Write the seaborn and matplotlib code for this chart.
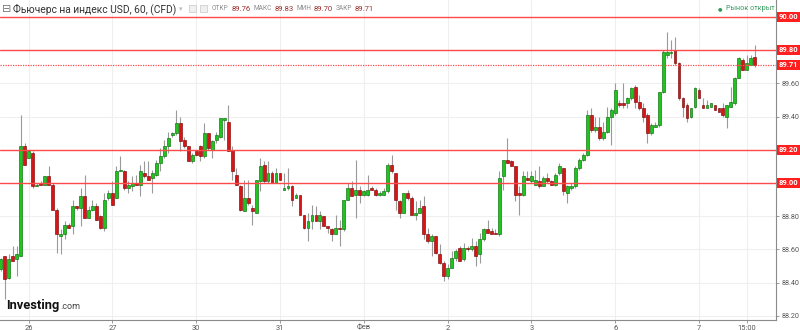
import numpy as np
import pandas as pd
import matplotlib
matplotlib.use("Agg")
import matplotlib.pyplot as plt
from matplotlib.patches import Rectangle
import seaborn as sns

# ---------------- data (hourly candles, USD index futures) ----------------
opens = [88.48, 88.56, 88.43, 88.56, 88.54, 88.56, 89.22, 89.15, 89.18, 88.98,
         89.00, 88.99, 89.04, 88.99, 88.84, 88.68, 88.69, 88.75, 88.74, 88.86,
         88.85, 88.92, 88.79, 88.84, 88.86, 88.80, 88.73, 88.91, 88.94, 88.91,
         89.07, 89.07, 88.97, 88.98, 89.00, 88.99, 89.06, 89.04, 89.03, 89.05,
         89.12, 89.16, 89.22, 89.29, 89.30, 89.36, 89.26, 89.22, 89.13, 89.19,
         89.22, 89.16, 89.30, 89.20, 89.26, 89.28, 89.38, 89.37, 89.20, 89.05,
         88.98, 88.83, 88.91, 88.85, 88.82, 89.01, 89.11, 89.01, 89.06, 89.00,
         89.06, 88.96, 88.97, 88.98, 88.91, 88.93, 88.81, 88.73, 88.77, 88.81,
         88.77, 88.80, 88.74, 88.72, 88.69, 88.73, 88.72, 88.90, 88.97, 88.93,
         88.96, 88.93, 88.93, 88.97, 88.96, 88.93, 88.93, 88.95, 89.11, 89.06,
         88.89, 88.82, 88.94, 88.91, 88.81, 88.82, 88.86, 88.69, 88.65, 88.68,
         88.57, 88.52, 88.44, 88.49, 88.55, 88.61, 88.54, 88.61, 88.60, 88.62,
         88.57, 88.66, 88.72, 88.71, 88.70, 88.69, 89.04, 89.14, 89.13, 89.10,
         88.94, 88.93, 89.03, 89.01, 88.99, 89.01, 88.98, 89.03, 89.01, 88.99,
         89.06, 89.09, 88.94, 88.97, 88.98, 89.09, 89.14, 89.17, 89.41, 89.32,
         89.34, 89.27, 89.31, 89.40, 89.42, 89.48, 89.48, 89.48, 89.51, 89.58,
         89.49, 89.45, 89.41, 89.30, 89.34, 89.35, 89.55, 89.77, 89.78, 89.80,
         89.72, 89.51, 89.47, 89.40, 89.46, 89.56, 89.47, 89.45, 89.46, 89.47,
         89.45, 89.45, 89.40, 89.46, 89.48, 89.63, 89.74, 89.68, 89.71, 89.76]
highs = [88.55, 88.56, 88.57, 88.62, 88.62, 89.41, 89.24, 89.20, 89.19, 89.00,
         89.01, 89.04, 89.10, 89.00, 88.85, 88.72, 88.77, 88.76, 88.90, 88.86,
         88.97, 89.05, 88.86, 88.90, 88.88, 88.81, 88.94, 88.96, 89.01, 89.10,
         89.16, 89.08, 89.01, 89.04, 89.05, 89.11, 89.13, 89.13, 89.08, 89.14,
         89.21, 89.26, 89.31, 89.31, 89.44, 89.40, 89.28, 89.22, 89.18, 89.20,
         89.23, 89.36, 89.30, 89.26, 89.31, 89.39, 89.39, 89.47, 89.22, 89.09,
         88.99, 89.02, 89.02, 88.87, 89.02, 89.15, 89.13, 89.13, 89.07, 89.09,
         89.06, 89.06, 89.09, 88.99, 88.94, 88.93, 88.81, 88.82, 88.87, 88.86,
         88.83, 88.80, 88.74, 88.73, 88.81, 88.78, 88.90, 89.00, 89.01, 89.14,
         88.98, 88.96, 89.05, 88.98, 88.97, 88.95, 88.97, 89.12, 89.17, 89.06,
         88.90, 88.94, 88.96, 88.92, 88.89, 88.90, 88.92, 88.73, 88.69, 88.68,
         88.63, 88.53, 88.51, 88.59, 88.60, 88.62, 88.64, 88.62, 88.67, 88.65,
         88.70, 88.73, 88.78, 88.73, 88.72, 89.07, 89.14, 89.27, 89.14, 89.10,
         88.98, 89.07, 89.07, 89.07, 89.08, 89.10, 89.04, 89.06, 89.02, 89.06,
         89.12, 89.09, 88.99, 89.00, 89.10, 89.15, 89.18, 89.44, 89.45, 89.40,
         89.40, 89.37, 89.46, 89.45, 89.60, 89.50, 89.60, 89.52, 89.58, 89.59,
         89.53, 89.48, 89.42, 89.36, 89.37, 89.55, 89.80, 89.91, 89.86, 89.88,
         89.73, 89.52, 89.48, 89.45, 89.58, 89.57, 89.51, 89.50, 89.48, 89.47,
         89.45, 89.48, 89.47, 89.58, 89.64, 89.76, 89.75, 89.77, 89.77, 89.83]
lows = [88.47, 88.30, 88.42, 88.53, 88.44, 88.56, 89.11, 89.15, 88.97, 88.98,
        88.99, 88.99, 88.99, 88.84, 88.58, 88.57, 88.66, 88.73, 88.69, 88.84,
        88.74, 88.79, 88.79, 88.83, 88.78, 88.72, 88.71, 88.90, 88.87, 88.91,
        89.07, 88.96, 88.94, 88.95, 88.99, 88.92, 89.03, 89.02, 88.94, 89.04,
        89.07, 89.15, 89.18, 89.28, 89.29, 89.19, 89.21, 89.13, 89.12, 89.16,
        89.13, 89.15, 89.20, 89.15, 89.24, 89.27, 89.26, 89.19, 89.02, 88.99,
        88.83, 88.83, 88.87, 88.75, 88.82, 88.95, 89.00, 89.00, 89.00, 89.00,
        89.02, 88.96, 88.96, 88.86, 88.91, 88.81, 88.72, 88.65, 88.72, 88.77,
        88.72, 88.74, 88.70, 88.65, 88.69, 88.62, 88.71, 88.90, 88.92, 88.79,
        88.88, 88.92, 88.92, 88.96, 88.92, 88.92, 88.93, 88.94, 89.06, 88.84,
        88.79, 88.82, 88.90, 88.81, 88.78, 88.82, 88.66, 88.64, 88.56, 88.57,
        88.51, 88.41, 88.42, 88.49, 88.53, 88.53, 88.53, 88.59, 88.59, 88.50,
        88.52, 88.65, 88.70, 88.69, 88.69, 88.68, 88.96, 89.12, 89.10, 88.89,
        88.81, 88.92, 89.02, 89.00, 88.99, 88.97, 88.98, 89.00, 88.99, 88.98,
        89.05, 88.93, 88.88, 88.96, 88.97, 89.08, 89.13, 89.16, 89.31, 89.31,
        89.26, 89.26, 89.30, 89.23, 89.41, 89.46, 89.45, 89.45, 89.50, 89.45,
        89.44, 89.37, 89.24, 89.29, 89.34, 89.34, 89.54, 89.75, 89.75, 89.71,
        89.50, 89.40, 89.37, 89.39, 89.45, 89.51, 89.45, 89.45, 89.46, 89.44,
        89.43, 89.40, 89.33, 89.46, 89.47, 89.63, 89.68, 89.68, 89.71, 89.70]
closes = [88.54, 88.42, 88.54, 88.53, 88.57, 89.22, 89.11, 89.19, 88.98, 88.99,
          88.99, 89.04, 88.99, 88.84, 88.69, 88.69, 88.75, 88.73, 88.86, 88.85,
          88.92, 88.79, 88.84, 88.86, 88.78, 88.73, 88.90, 88.94, 88.87, 89.07,
          89.08, 88.97, 88.99, 89.00, 88.99, 89.07, 89.04, 89.02, 89.06, 89.12,
          89.16, 89.22, 89.27, 89.30, 89.36, 89.25, 89.22, 89.13, 89.17, 89.17,
          89.16, 89.30, 89.21, 89.25, 89.29, 89.39, 89.39, 89.19, 89.07, 88.99,
          88.84, 88.91, 88.88, 88.83, 89.02, 89.10, 89.01, 89.06, 89.00, 89.06,
          89.02, 88.97, 88.98, 88.90, 88.93, 88.81, 88.73, 88.77, 88.81, 88.77,
          88.81, 88.74, 88.73, 88.69, 88.73, 88.72, 88.90, 88.97, 88.92, 88.96,
          88.93, 88.95, 88.96, 88.96, 88.93, 88.94, 88.95, 89.11, 89.07, 88.90,
          88.82, 88.94, 88.91, 88.81, 88.82, 88.85, 88.69, 88.65, 88.68, 88.58,
          88.52, 88.44, 88.49, 88.55, 88.59, 88.53, 88.61, 88.60, 88.62, 88.56,
          88.66, 88.72, 88.70, 88.69, 88.69, 89.03, 89.14, 89.12, 89.10, 88.93,
          88.93, 89.04, 89.02, 89.04, 89.02, 88.98, 89.03, 89.01, 88.99, 89.05,
          89.10, 88.95, 88.98, 88.98, 89.09, 89.14, 89.17, 89.41, 89.32, 89.34,
          89.27, 89.31, 89.40, 89.44, 89.56, 89.47, 89.47, 89.51, 89.57, 89.49,
          89.45, 89.40, 89.30, 89.35, 89.35, 89.55, 89.79, 89.79, 89.79, 89.72,
          89.51, 89.46, 89.39, 89.45, 89.57, 89.51, 89.45, 89.47, 89.48, 89.44,
          89.43, 89.41, 89.47, 89.49, 89.63, 89.75, 89.68, 89.72, 89.75, 89.71]

day_ticks = [7, 28, 49, 70, 91, 112, 133, 154, 175, 187]
day_labels = ["26", "27", "30", "31", "Фев", "2", "3", "6", "7", "15:00"]
grid_levels = [88.2, 88.4, 88.6, 88.8, 89.0, 89.2, 89.4, 89.6, 89.8, 90.0]
axis_labels = [88.2, 88.4, 88.6, 88.8, 89.4, 89.6]
level_lines = [90.00, 89.80, 89.20, 89.00]
last_price = 89.71
ohlc_labels = ["ОТКР", "МАКС", "МИН", "ЗАКР"]
ohlc_values = ["89.76", "89.83", "89.70", "89.71"]

# ---------------- styling ----------------
sns.set_theme(style="white")
plt.rcParams['font.family'] = ['Roboto', 'DejaVu Sans']

df = pd.DataFrame({"o": opens, "h": highs, "l": lows, "c": closes})
df["idx"] = np.arange(len(df))
df["up"] = df["c"] >= df["o"]
df["bottom"] = df[["o", "c"]].min(axis=1)
df["height"] = (df["c"] - df["o"]).abs().clip(lower=0.005)

W, H = 800, 330
fig = plt.figure(figsize=(8, 3.3), dpi=100)
fig.patch.set_facecolor("white")
ax_bottom_px, ax_right_px = 320, 776
ax = fig.add_axes([0, (H - ax_bottom_px) / H, ax_right_px / W, ax_bottom_px / H])
ymin, ymax = 88.175, 90.102
ax.set_xlim(-0.18, 194.3)
ax.set_ylim(ymin, ymax)

# grid
for g in grid_levels:
    ax.axhline(g, color="#efefef", lw=0.8, zorder=0)
for t in day_ticks:
    ax.axvline(t, color="#efefef", lw=0.8, zorder=0)

# candles
ax.vlines(df["idx"], df["l"], df["h"], color="#9a9a9a", lw=0.8, zorder=2)
up = df[df["up"]]
dn = df[~df["up"]]
ax.bar(up["idx"], up["height"], bottom=up["bottom"], width=0.72,
       color="#1fc41f", edgecolor="#0b6e0b", lw=0.45, zorder=3)
ax.bar(dn["idx"], dn["height"], bottom=dn["bottom"], width=0.72,
       color="#d81414", edgecolor="#7a0a0a", lw=0.45, zorder=3)

# horizontal levels
for lv in level_lines:
    ax.axhline(lv, color="#ff4a4a", lw=1.0, zorder=4)
ax.axhline(last_price, color="#ff4a4a", lw=0.9, ls=(0, (1, 1)), zorder=4)

# axes
for s in ["top", "left"]:
    ax.spines[s].set_visible(False)
for s in ["right", "bottom"]:
    ax.spines[s].set_color("#8a8a8a")
    ax.spines[s].set_linewidth(0.8)
ax.yaxis.tick_right()
ax.set_yticks(axis_labels)
ax.set_yticklabels([f"{v:.2f}" for v in axis_labels])
ax.tick_params(axis="y", length=2.5, width=0.6, color="#8a8a8a", pad=1.5,
               labelsize=5.2, labelcolor="#555555", right=True, left=False)
ax.set_xticks(day_ticks)
ax.set_xticklabels(day_labels)
ax.tick_params(axis="x", length=2.5, width=0.6, color="#8a8a8a", pad=0.8,
               labelsize=5.4, labelcolor="#555555", bottom=True)
ax.grid(False)

# red price boxes on the right axis
def yfig(v):
    return (H - ax_bottom_px) / H + (v - ymin) / (ymax - ymin) * ax_bottom_px / H

for lv in level_lines + [last_price]:
    yc = yfig(lv)
    bh = 10 / H
    fig.patches.append(Rectangle((777 / W, yc - bh / 2), 23 / W, bh,
                                 transform=fig.transFigure, facecolor="#ff1f1f",
                                 edgecolor="none", zorder=5))
    fig.text(788.5 / W, yc, f"{lv:.2f}", ha="center", va="center", color="white",
             fontsize=5.4, fontweight="bold", zorder=6)

# header
def fx(px):
    return px / W

def fy(py):
    return 1 - py / H

fig.text(fx(2), fy(9), "⊟", fontsize=8, color="#777777", va="center", ha="left",
         family=["DejaVu Sans"])
fig.text(fx(13), fy(9), "Фьючерс на индекс USD, 60, (CFD)", fontsize=7.4,
         color="#333333", va="center", ha="left")
fig.text(fx(179), fy(9), "▾", fontsize=5.0, color="#bbbbbb", va="center", ha="left",
         family=["DejaVu Sans"])
for px in (189, 200):
    fig.patches.append(Rectangle((fx(px), fy(12)), 6.5 / W, 7 / H, transform=fig.transFigure,
                                 facecolor="#f0f0f0", edgecolor="#cfcfcf", lw=0.6))

# OHLC readout laid out left to right with measured widths
renderer = fig.canvas.get_renderer()
cur = 212.0
for lt, vt in zip(ohlc_labels, ohlc_values):
    t1 = fig.text(fx(cur), fy(9), lt, fontsize=4.7, color="#8c8c8c", va="center", ha="left")
    cur += t1.get_window_extent(renderer).width + 2.5
    t2 = fig.text(fx(cur), fy(9), vt, fontsize=5.5, color="#9b2d2d", va="center", ha="left")
    cur += t2.get_window_extent(renderer).width + 3

fig.text(fx(718), fy(9), "●", fontsize=3.8, color="#2f9a5a", va="center", ha="left",
         family=["DejaVu Sans"])
fig.text(fx(726), fy(9), "Рынок открыт", fontsize=5.2, color="#3a9a62",
         va="center", ha="left")

# logo
fig.text(fx(6), fy(305), "Investing", fontsize=9.3, fontweight="bold", color="#111111",
         va="center", ha="left", family=["Roboto", "DejaVu Sans"])
fig.text(fx(60), fy(306.5), ".com", fontsize=6.5, color="#444444",
         va="center", ha="left")

fig.savefig("out.png", dpi=100, facecolor="white")
